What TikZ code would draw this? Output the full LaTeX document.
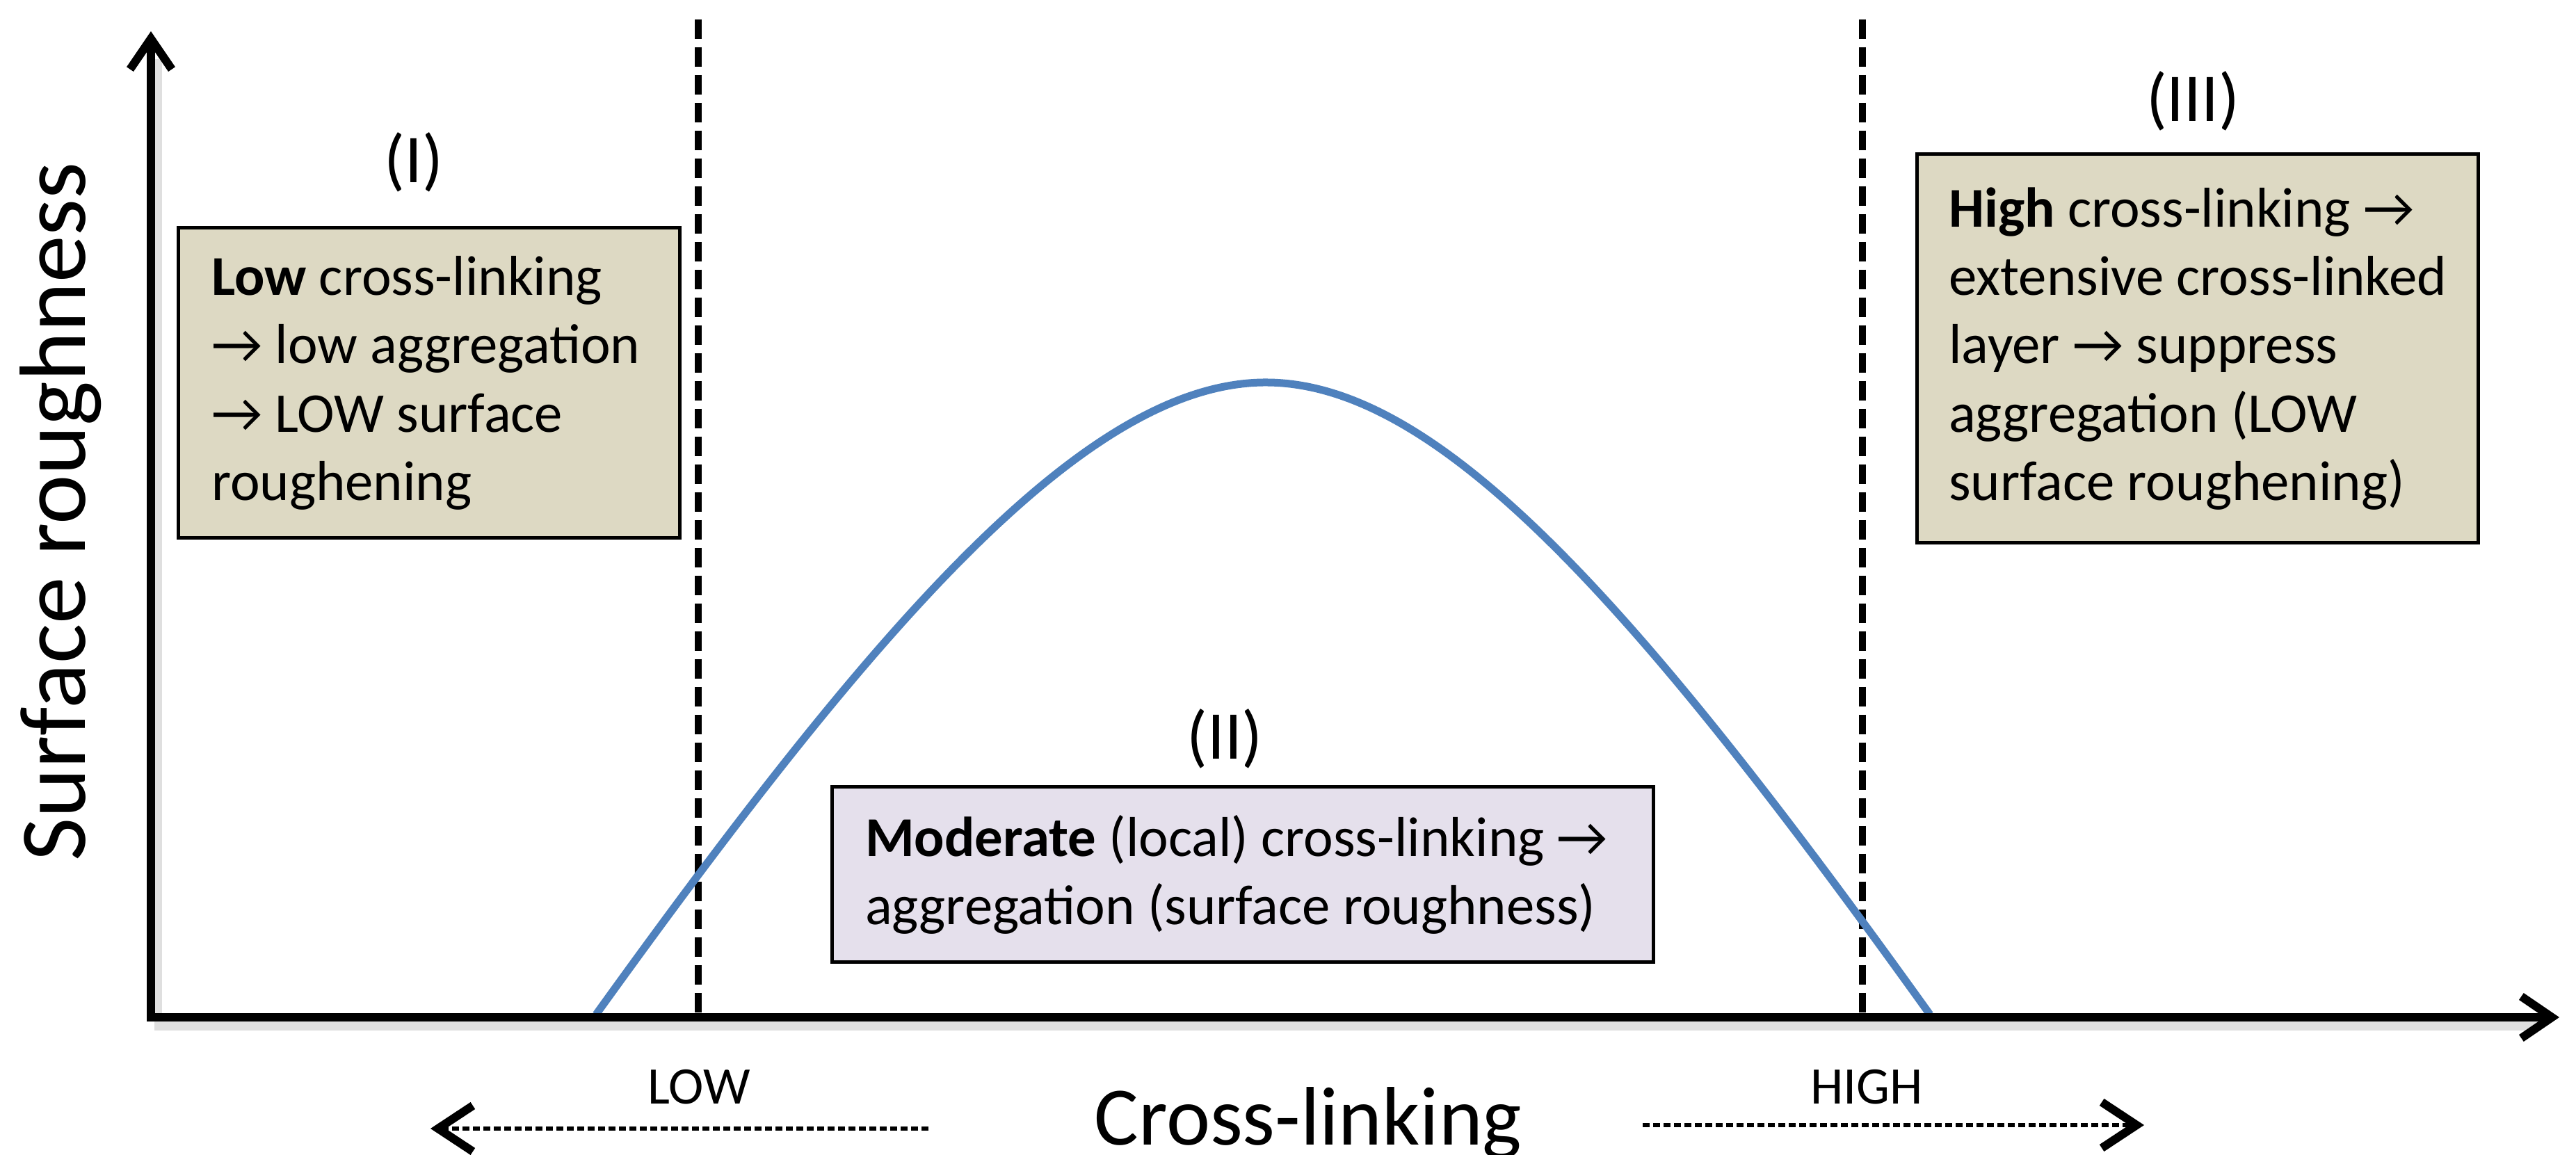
\documentclass[tikz,border=0pt]{standalone}
\usepackage{fontspec}
\setmainfont{Carlito}
\usetikzlibrary{arrows.meta}
\definecolor{khaki}{HTML}{DDD9C3}
\definecolor{lavender}{HTML}{E5E0EC}
\definecolor{curveblue}{HTML}{4F81BD}
\begin{document}
\begin{tikzpicture}[
  axisline/.style={line width=0.12cm, line join=miter,
    {Straight Barb[length=0.44cm,width=0.6cm]}-{Straight Barb[length=0.44cm,width=0.6cm]}},
  guide/.style={line width=0.1cm, dash pattern=on 0.28cm off 0.12cm},
  hint/.style={line width=0.06cm, dash pattern=on 0.1cm off 0.05cm,
    -{Straight Barb[length=0.5cm,width=0.66cm,line width=0.12cm]}},
  shade/.style={draw=black!35, opacity=0.35},
  panel/.style={draw=black, line width=0.05cm, inner sep=0pt},
  boxtext/.style={align=left, inner sep=0pt, anchor=west, font=\fontsize{23}{28}\selectfont},
  region/.style={inner sep=0pt, font=\fontsize{28}{33}\selectfont},
  lvl/.style={inner sep=0pt, anchor=base, font=\fontsize{21.6}{26}\selectfont},
  axlabel/.style={inner sep=0pt, anchor=base, font=\fontsize{34}{40}\selectfont},
  ylabel/.style={inner sep=0pt, anchor=base, rotate=90, font=\fontsize{38.5}{45}\selectfont}
]
\useasboundingbox (0,0) rectangle (37.04,16.61);
\fill[white] (0,0) rectangle (37.04,16.61);

% coordinates of the axes and guides
\coordinate (O) at (2.17,1.98);
\coordinate (ytip) at (2.17,16.16);
\coordinate (xtip) at (36.80,1.98);
\coordinate (lowtop) at (10.04,16.33);
\coordinate (lowbot) at (10.04,1.98);
\coordinate (hightop) at (26.78,16.33);
\coordinate (highbot) at (26.78,1.98);

% soft shadows
\draw[shade, line width=0.22cm] ([xshift=0.05cm,yshift=-0.08cm]O) -- ([xshift=-0.3cm,yshift=-0.08cm]xtip);
\draw[shade, line width=0.16cm] ([xshift=0.08cm]O) -- ([xshift=0.08cm,yshift=-0.4cm]ytip);

% dashed threshold lines
\draw[guide] (lowtop) -- (lowbot);
\draw[guide] (hightop) -- (highbot);

% curve
\coordinate (c0) at (8.57,2.02);
\coordinate (peak) at (18.20,11.11);
\coordinate (c1) at (27.75,2.02);
\draw[curveblue, line width=0.11cm] (c0) .. controls (12.57,7.58) and (15.60,11.11) .. (peak)
  .. controls (20.70,11.11) and (23.55,7.88) .. (c1);

% axes
\draw[axisline] (ytip) -- (O) -- (xtip);

% boxes
\node[panel, fill=khaki, minimum width=7.21cm, minimum height=4.46cm] (boxI) at (6.165,11.10) {};
\node[boxtext] (txtI) at ([xshift=0.5cm]boxI.west)
  {\textbf{Low} cross-linking\\→ low aggregation\\→ LOW surface\\roughening};

\node[panel, fill=khaki, minimum width=8.07cm, minimum height=5.59cm] (boxIII) at (31.595,11.595) {};
\node[boxtext] (txtIII) at ([xshift=0.48cm]boxIII.west)
  {\textbf{High} cross-linking →\\extensive cross-linked\\layer → suppress\\aggregation (LOW\\surface roughening)};

\node[panel, fill=lavender, minimum width=11.81cm, minimum height=2.52cm] (boxII) at (17.865,4.03) {};
\node[boxtext] (txtII) at ([xshift=0.5cm]boxII.west)
  {\textbf{Moderate} (local) cross-linking →\\aggregation (surface roughness)};

% region labels
\node[region] (lblI) at (5.95,14.28) {(I)};
\node[region] (lblII) at (17.61,5.99) {(II)};
\node[region] (lblIII) at (31.53,15.16) {(III)};

% axis labels
\node[lvl] (low) at (10.05,0.73) {LOW};
\node[lvl] (high) at (26.84,0.73) {HIGH};
\node[axlabel] (xlab) at (18.81,0.14) {Cross-linking};
\node[ylabel] (ylab) at (1.23,9.25) {Surface roughness};

% direction hints
\coordinate (lowfrom) at (13.35,0.38);
\coordinate (lowto) at (6.19,0.38);
\draw[hint] (lowfrom) -- (lowto);
\coordinate (highfrom) at (23.62,0.43);
\coordinate (highto) at (30.83,0.43);
\draw[hint] (highfrom) -- (highto);
\end{tikzpicture}
\end{document}
